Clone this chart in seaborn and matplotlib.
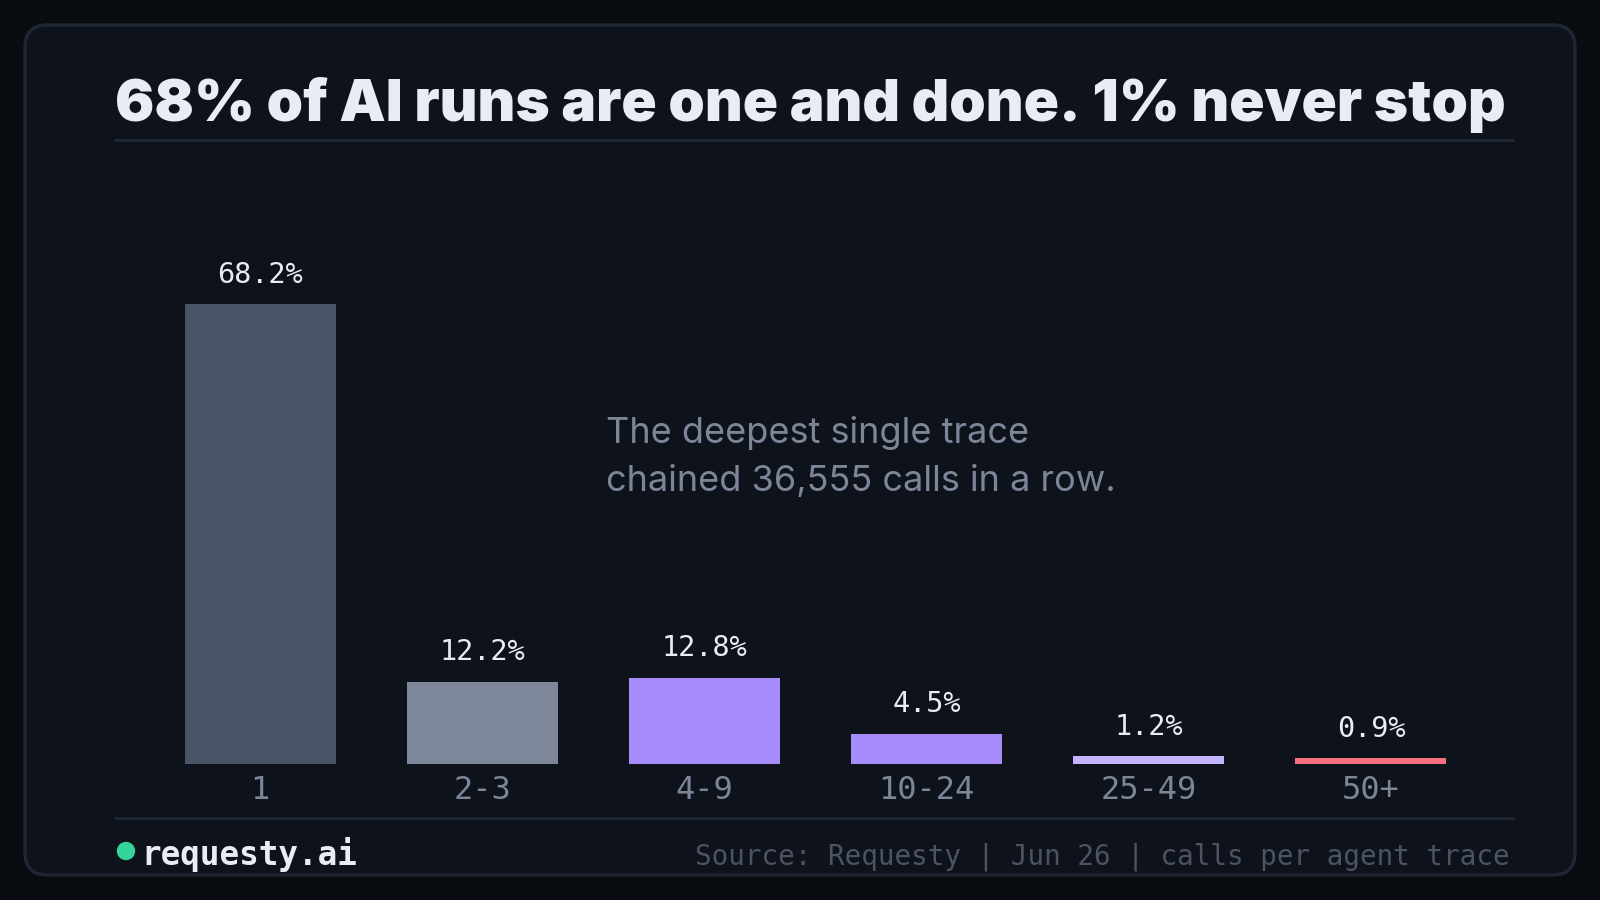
import matplotlib
matplotlib.use("Agg")
import matplotlib.pyplot as plt
from matplotlib.patches import FancyBboxPatch, Ellipse
from matplotlib.lines import Line2D
import seaborn as sns

# data
buckets = ["1", "2-3", "4-9", "10-24", "25-49", "50+"]
share = [68.2, 12.2, 12.8, 4.5, 1.2, 0.9]
bar_colors = ["#4a5467", "#7e8799", "#a78bfa", "#a78bfa", "#c4b5fd", "#f7707f"]
title = "68% of AI runs are one and done. 1% never stop"
note = "The deepest single trace\nchained 36,555 calls in a row."
source = "Source: Requesty | Jun 26 | calls per agent trace"
brand = "requesty.ai"

BG = "#080b10"
CARD = "#0e121a"
EDGE = "#1f2633"
WHITE = "#e8ecf4"
GREY = "#7d8699"
DIM = "#4b5364"

sns.set_style("dark")
W, H = 1600, 900
fig = plt.figure(figsize=(16, 9), dpi=100, facecolor=BG)

def fx(x): return x / W
def fy(y): return 1 - y / H

card = FancyBboxPatch((fx(25), fy(875)), fx(1575) - fx(25), fy(25) - fy(875),
                      boxstyle="round,pad=0,rounding_size=0.014",
                      transform=fig.transFigure, facecolor=CARD, edgecolor=EDGE,
                      linewidth=2.5, mutation_aspect=16/9, zorder=-5)
fig.add_artist(card)

# bar axes
ax = fig.add_axes([fx(149), fy(764), fx(1482) - fx(149), (764 - 200) / H])
ax.set_facecolor("none")
ax.set_zorder(2)
sns.barplot(x=buckets, y=share, hue=buckets, palette=bar_colors, legend=False,
            width=0.68, saturation=1, linewidth=0, ax=ax)
ax.set_ylim(0, 83.6)
ax.set_xlim(-0.5, 5.5)
for c in ax.containers:
    ax.bar_label(c, fmt="%.1f%%", padding=11, color=WHITE, fontsize=20.5,
                 family="DejaVu Sans Mono")
ax.set_yticks([])
ax.set_xlabel("")
ax.set_ylabel("")
ax.tick_params(axis="x", length=0, pad=8, labelsize=23, labelcolor=GREY)
for t in ax.get_xticklabels():
    t.set_family("DejaVu Sans Mono")
for s in ax.spines.values():
    s.set_visible(False)
ax.grid(False)

fig.text(fx(606), fy(491), note, ha="left", va="baseline",
         fontsize=26, color=GREY, family="Inter", linespacing=1.56)

# title + rules
fig.text(fx(115), fy(121), title, ha="left", va="baseline", fontsize=42,
         fontweight="black", color=WHITE, family="Inter")
fig.add_artist(Line2D([fx(115), fx(1513)], [fy(140), fy(140)], color=EDGE, lw=2.2))
fig.add_artist(Line2D([fx(115), fx(1513)], [fy(818), fy(818)], color=EDGE, lw=2.2))

# footer
fig.add_artist(Ellipse((fx(126), fy(851)), 17 / W, 17 / H, transform=fig.transFigure,
                       color="#34d399"))
fig.text(fx(141), fy(855), brand, ha="left", va="center", fontsize=23.5,
         fontweight="bold", color=WHITE, family="DejaVu Sans Mono")
fig.text(fx(1510), fy(857), source, ha="right", va="center", fontsize=19.9,
         color=DIM, family="DejaVu Sans Mono")

fig.savefig("out.png", dpi=100, facecolor=BG)
